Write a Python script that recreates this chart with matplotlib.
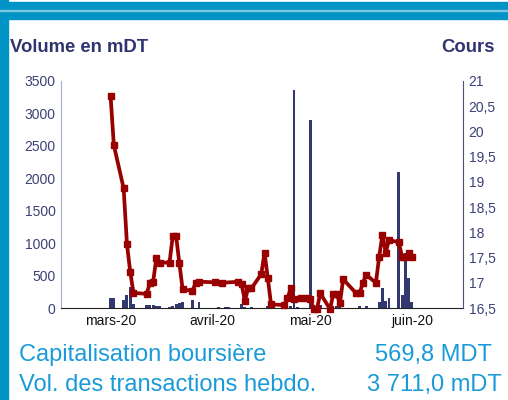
import pandas as pd
import matplotlib
matplotlib.use("Agg")
import matplotlib.pyplot as plt
from matplotlib.patches import Rectangle

plt.rcParams['font.family'] = ['Liberation Sans', 'DejaVu Sans']

# Volume (mDT), daily bars
vol_dates = ['2020-03-01', '2020-03-02', '2020-03-05', '2020-03-06', '2020-03-07', '2020-03-08',
             '2020-03-12', '2020-03-13', '2020-03-14', '2020-03-15', '2020-03-16', '2020-03-19',
             '2020-03-20', '2020-03-21', '2020-03-22', '2020-03-23', '2020-03-26', '2020-03-28',
             '2020-04-03', '2020-04-05', '2020-04-06', '2020-04-10', '2020-04-11', '2020-04-13',
             '2020-04-18', '2020-04-25', '2020-04-26', '2020-04-27', '2020-05-01', '2020-05-02',
             '2020-05-04', '2020-05-09', '2020-05-10', '2020-05-16', '2020-05-18', '2020-05-22',
             '2020-05-23', '2020-05-24', '2020-05-25', '2020-05-28', '2020-05-29', '2020-05-30',
             '2020-05-31', '2020-06-01']
volumes = [150, 155, 120, 205, 320, 57,
           40, 45, 45, 30, 35, 20,
           25, 55, 80, 95, 120, 90,
           10, 10, 10, 65, 15, 10,
           35, 35, 3360, 15, 2900, 45,
           40, 30, 15, 25, 30, 97,
           313, 113, 160, 2100, 200, 845,
           468, 97]

# Cours (price)
price_dates = ['2020-03-01', '2020-03-02', '2020-03-05', '2020-03-06', '2020-03-07', '2020-03-08',
               '2020-03-12', '2020-03-13', '2020-03-14', '2020-03-15', '2020-03-16', '2020-03-19',
               '2020-03-20', '2020-03-21', '2020-03-22', '2020-03-23', '2020-03-26', '2020-03-27',
               '2020-03-28', '2020-04-02', '2020-04-04', '2020-04-09', '2020-04-10', '2020-04-11',
               '2020-04-12', '2020-04-13', '2020-04-16', '2020-04-17', '2020-04-18', '2020-04-19',
               '2020-04-23', '2020-04-24', '2020-04-25', '2020-04-26', '2020-04-28', '2020-04-30',
               '2020-05-01', '2020-05-02', '2020-05-03', '2020-05-04', '2020-05-07', '2020-05-08',
               '2020-05-09', '2020-05-10', '2020-05-11', '2020-05-15', '2020-05-16', '2020-05-17',
               '2020-05-18', '2020-05-21', '2020-05-22', '2020-05-23', '2020-05-24', '2020-05-25',
               '2020-05-28', '2020-05-29', '2020-05-30', '2020-05-31', '2020-06-01']
prices = [20.71, 19.73, 18.87, 17.77, 17.22, 16.80,
          16.78, 16.99, 17.02, 17.50, 17.40, 17.40,
          17.93, 17.93, 17.39, 16.87, 16.84, 17.00,
          17.02, 17.01, 17.00, 17.02, 16.98, 16.64,
          16.89, 16.89, 17.17, 17.60, 17.09, 16.57,
          16.56, 16.69, 16.89, 16.67, 16.69, 16.69,
          16.67, 16.48, 16.48, 16.79, 16.48, 16.78,
          16.78, 16.59, 17.07, 16.79, 16.79, 16.99,
          17.16, 17.00, 17.52, 17.95, 17.60, 17.85,
          17.80, 17.51, 17.51, 17.59, 17.51]

month_ticks = ['2020-03-01', '2020-04-01', '2020-05-01', '2020-06-01']
month_labels = ['mars-20', 'avril-20', 'mai-20', 'juin-20']
left_ticks = [0, 500, 1000, 1500, 2000, 2500, 3000, 3500]
right_ticks = [16.5, 17, 17.5, 18, 18.5, 19, 19.5, 20, 20.5, 21]

navy = '#33396f'
red = '#990000'
blue = '#0094c6'
textblue = '#1a9ad8'

fig = plt.figure(figsize=(5.08, 4.0), dpi=100)

# frame decorations
fig.patches.append(Rectangle((0, 0), 8 / 508, 1, transform=fig.transFigure, color=blue, zorder=0))
fig.patches.append(Rectangle((0, 1 - 19 / 400), 1, 17 / 400, transform=fig.transFigure, color=blue, zorder=0))
fig.patches.append(Rectangle((0, 1 - 10.5 / 400), 1, 1 / 400, transform=fig.transFigure, color='#7cc6e2', zorder=1))

ax = fig.add_axes([61 / 508, 92 / 400, 402 / 508, 227 / 400])
ax2 = ax.twinx()

ax.bar(pd.to_datetime(vol_dates), volumes, width=0.9, color=navy, zorder=2)
ax2.plot(pd.to_datetime(price_dates), prices, color=red, lw=2.7, marker='s', ms=4.8,
         clip_on=False, zorder=3)

ax.set_xlim(pd.Timestamp('2020-02-14 21:00'), pd.Timestamp('2020-06-16 14:00'))
ax.set_ylim(0, 3500)
ax2.set_ylim(16.5, 21)

ax.set_yticks(left_ticks)
ax.set_yticklabels([str(t) for t in left_ticks], color='#3c4178', fontsize=10)
ax2.set_yticks(right_ticks)
ax2.set_yticklabels([('%g' % t).replace('.', ',') for t in right_ticks], color='#3c4178', fontsize=10)
ax.set_xticks(pd.to_datetime(month_ticks))
ax.set_xticklabels(month_labels, fontsize=10, color='#111111')

ax.tick_params(axis='both', length=0, pad=4)
ax2.tick_params(axis='y', length=0, pad=4)

for a in (ax, ax2):
    a.spines['top'].set_visible(False)
    a.patch.set_visible(False)
ax.spines['right'].set_visible(False)
ax2.spines['left'].set_visible(False)
ax2.spines['bottom'].set_visible(False)
ax.spines['left'].set_color('#a8aecb')
ax.spines['bottom'].set_color('#222222')
ax2.spines['right'].set_color('#4a4f85')

fig.text(10 / 508, 1 - 47 / 400, 'Volume en mDT', fontsize=13.3, fontweight='bold', color='#2f3470',
         va='center', ha='left')
fig.text(495 / 508, 1 - 47 / 400, 'Cours', fontsize=13.3, fontweight='bold', color='#2f3470',
         va='center', ha='right')

fig.text(19 / 508, 1 - 355 / 400, 'Capitalisation boursière', fontsize=17, color=textblue,
         va='center', ha='left')
fig.text(492 / 508, 1 - 355 / 400, '569,8 MDT', fontsize=17, color=textblue, va='center', ha='right')
fig.text(19 / 508, 1 - 385 / 400, 'Vol. des transactions hebdo.', fontsize=17, color=textblue,
         va='center', ha='left')
fig.text(502 / 508, 1 - 385 / 400, '3 711,0 mDT', fontsize=17, color=textblue, va='center', ha='right')

fig.savefig('out.png', dpi=100)
